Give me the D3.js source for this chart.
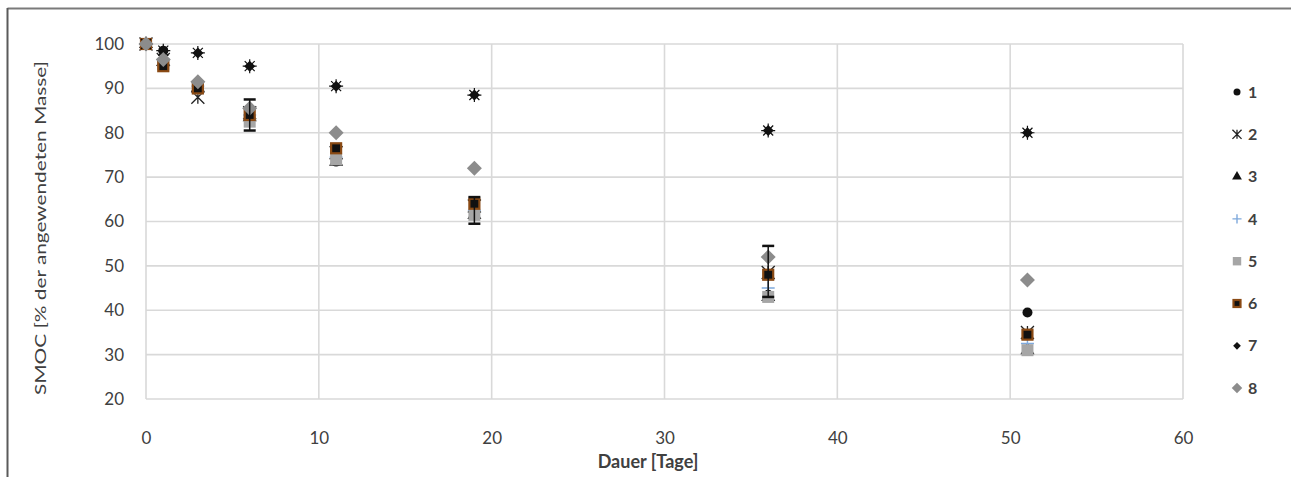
<!DOCTYPE html>
<html>
<head>
<meta charset="utf-8">
<script src="https://cdn.jsdelivr.net/npm/d3@7"></script>
<style>
  html, body { margin: 0; padding: 0; background: #fff; }
  svg { display: block; }
</style>
</head>
<body>
<svg id="chart" width="1291" height="477"></svg>
<script>
// Sampling days
const days = [0, 1, 3, 6, 11, 19, 36, 51];

// SMOC per series (% of applied mass)
const s1 = [100, 98.5, 90.5, 84.5, 73.5, 62.5, 43.5, 39.5];
const s2 = [100, 96.5, 88, 84.5, 75.5, 63.5, 48.5, 35];
const s3 = [100, 96, 90, 83.5, 73.5, 61.5, 43, 31];
const s4 = [100, 96.5, 90.5, 84, 74.5, 62.5, 45, 32.5];
const s5 = [100, 95.5, 90, 82.5, 74, 61.5, 43, 31];
const s6 = [100, 95, 90, 84, 76.5, 64, 48, 34.5];
const s7 = [100, 98.5, 98, 95, 90.5, 88.5, 80.5, 80];
const s8 = [100, 96.5, 91.5, 85.5, 80, 72, 52, 46.8];

// Error bars of series 4 (upper / lower extent)
const errUp = [0, 0, 0, 3.5, 0, 3, 9.5, 0];
const errDown = [0, 0, 0, 3.5, 0, 3, 2, 0];

const seriesNames = ["1", "2", "3", "4", "5", "6", "7", "8"];
const xTicks = [0, 10, 20, 30, 40, 50, 60];
const yTicks = [20, 30, 40, 50, 60, 70, 80, 90, 100];

const seriesValues = [s1, s2, s3, s4, s5, s6, s7, s8];

const svg = d3.select("#chart");
const W = 1291, H = 477;
const FONT = "Lato, 'Open Sans', sans-serif";

// Outer frame (top and left edges)
svg.append("line").attr("x1", 7.5).attr("x2", W).attr("y1", 8.5).attr("y2", 8.5)
  .attr("stroke", "#7a7a7a").attr("stroke-width", 2);
svg.append("line").attr("x1", 7.5).attr("x2", 7.5).attr("y1", 8).attr("y2", H)
  .attr("stroke", "#5a5a5a").attr("stroke-width", 2);

const x = d3.scaleLinear().domain([0, 60]).range([146, 1183]);
const y = d3.scaleLinear().domain([20, 100]).range([399, 44]);

// Grid
const grid = svg.append("g");
grid.selectAll("line.h").data(yTicks).join("line")
  .attr("x1", x(0)).attr("x2", x(60))
  .attr("y1", d => y(d)).attr("y2", d => y(d))
  .attr("stroke", "#d9d9d9").attr("stroke-width", 1.6);
grid.selectAll("line.v").data(xTicks).join("line")
  .attr("x1", d => x(d)).attr("x2", d => x(d))
  .attr("y1", y(20)).attr("y2", y(100))
  .attr("stroke", "#d9d9d9").attr("stroke-width", 1.6);

// Axes (labels only)
const yAxis = d3.axisLeft(y).tickValues(yTicks).tickSize(0).tickPadding(22);
const gy = svg.append("g").attr("transform", `translate(${x(0)},0)`).call(yAxis);
gy.select(".domain").remove();
gy.selectAll("text").attr("font-family", FONT)
  .attr("font-size", 17).attr("fill", "#404040");

const xAxis = d3.axisBottom(x).tickValues(xTicks).tickSize(0).tickPadding(33);
const gx = svg.append("g").attr("transform", `translate(0,${y(20)})`).call(xAxis);
gx.select(".domain").remove();
gx.selectAll("text").attr("font-family", FONT)
  .attr("font-size", 17).attr("fill", "#404040");

// Axis titles
svg.append("text").attr("x", 648).attr("y", 468).attr("text-anchor", "middle")
  .attr("font-family", FONT).attr("font-weight", "bold")
  .attr("font-size", 18).attr("fill", "#404040").text("Dauer [Tage]");
svg.append("text").attr("transform", "translate(46,228) rotate(-90)")
  .attr("text-anchor", "middle")
  .attr("font-family", FONT)
  .attr("font-size", 16).attr("fill", "#404040")
  .attr("textLength", 334).attr("lengthAdjust", "spacingAndGlyphs")
  .text("SMOC [% der angewendeten Masse]");

// Diamond path with equal width and height
function diamond(r) {
  return `M0,${-r}L${r},0L0,${r}L${-r},0Z`;
}

// Marker drawing per series; k scales the marker (legend uses smaller ones)
function drawMarker(g, i, cx, cy, k) {
  const t = `translate(${cx},${cy})`;
  switch (i) {
    case 0:
      g.append("circle").attr("cx", cx).attr("cy", cy).attr("r", 5 * k).attr("fill", "#111");
      break;
    case 1: {
      const a = 6.5 * k;
      const p = d3.path();
      p.moveTo(-a, -a); p.lineTo(a, a);
      p.moveTo(a, -a); p.lineTo(-a, a);
      p.moveTo(0, -a); p.lineTo(0, a);
      g.append("path").attr("d", p.toString()).attr("transform", t)
        .attr("stroke", "#222").attr("stroke-width", 1.3).attr("fill", "none");
      break;
    }
    case 2:
      g.append("path").attr("d", d3.symbol(d3.symbolTriangle, 85 * k * k)()).attr("transform", t)
        .attr("fill", "#111");
      break;
    case 3: {
      const a = 6.5 * k;
      const p = d3.path();
      p.moveTo(-a, 0); p.lineTo(a, 0);
      p.moveTo(0, -a); p.lineTo(0, a);
      g.append("path").attr("d", p.toString()).attr("transform", t)
        .attr("stroke", "#7fa9dc").attr("stroke-width", 1.4).attr("fill", "none");
      break;
    }
    case 4: {
      const a = 6 * k;
      g.append("rect").attr("x", cx - a).attr("y", cy - a).attr("width", 2 * a).attr("height", 2 * a)
        .attr("fill", "#a6a6a6");
      break;
    }
    case 5: {
      const a = 5 * k;
      g.append("rect").attr("x", cx - a).attr("y", cy - a).attr("width", 2 * a).attr("height", 2 * a)
        .attr("fill", "#111").attr("stroke", "#8a4a14").attr("stroke-width", 2.2);
      break;
    }
    case 6: {
      g.append("path").attr("d", diamond(5.5 * k)).attr("transform", t).attr("fill", "#111");
      if (k === 1) {
        const p = d3.path();
        p.moveTo(-7, 0); p.lineTo(7, 0);
        p.moveTo(0, -7); p.lineTo(0, 7);
        p.moveTo(-5, -5); p.lineTo(5, 5);
        p.moveTo(5, -5); p.lineTo(-5, 5);
        g.append("path").attr("d", p.toString()).attr("transform", t)
          .attr("stroke", "#111").attr("stroke-width", 1.2);
      }
      break;
    }
    case 7:
      g.append("path").attr("d", diamond(7.5 * k)).attr("transform", t).attr("fill", "#8c8c8c");
      break;
  }
}

// Series points (drawn in legend order)
const plot = svg.append("g");
seriesValues.forEach((vals, i) => {
  const g = plot.append("g");
  vals.forEach((v, j) => drawMarker(g, i, x(days[j]), y(v), 1));
});

// Error bars on series 4
const eb = plot.append("g").attr("stroke", "#111").attr("stroke-width", 1.5);
days.forEach((d, j) => {
  if (errUp[j] === 0 && errDown[j] === 0) return;
  const cx = x(d);
  const top = y(s4[j] + errUp[j]);
  const bot = y(s4[j] - errDown[j]);
  eb.append("line").attr("x1", cx).attr("x2", cx).attr("y1", top).attr("y2", bot);
  eb.append("line").attr("x1", cx - 6).attr("x2", cx + 6).attr("y1", top).attr("y2", top).attr("stroke-width", 2.5);
  eb.append("line").attr("x1", cx - 6).attr("x2", cx + 6).attr("y1", bot).attr("y2", bot).attr("stroke-width", 2.5);
});

// Legend
const legend = svg.append("g");
seriesNames.forEach((name, i) => {
  const ly = 92 + i * 42.3;
  drawMarker(legend, i, 1237, ly, 0.7);
  legend.append("text").attr("x", 1248).attr("y", ly).attr("dy", "0.35em")
    .attr("font-family", FONT).attr("font-weight", "bold")
    .attr("font-size", 16).attr("fill", "#404040").text(name);
});
</script>
</body>
</html>
